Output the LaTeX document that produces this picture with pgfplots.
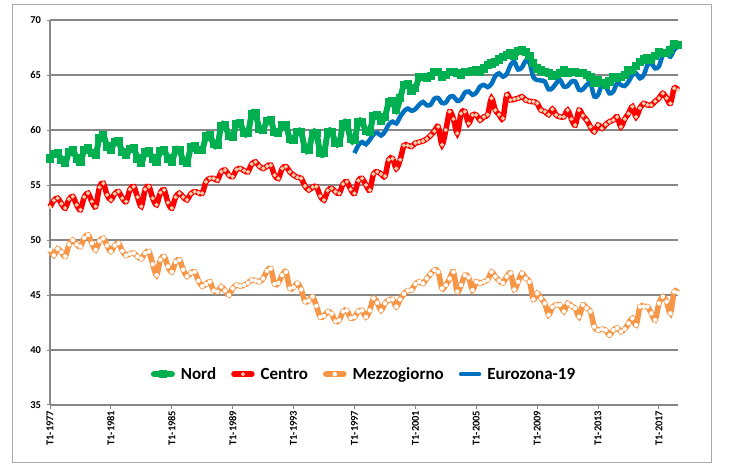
\documentclass[border=0pt]{standalone}
\usepackage{pgfplots}
\pgfplotsset{compat=1.18}
\usepackage{pgfplotstable}
\usepackage{fontspec}
\setmainfont{Carlito}
\definecolor{nordc}{RGB}{0,176,80}
\definecolor{nordm}{RGB}{175,232,125}
\definecolor{centroc}{RGB}{255,0,0}
\definecolor{centrom}{RGB}{242,208,172}
\definecolor{mezzoc}{RGB}{247,150,70}
\definecolor{euroc}{RGB}{0,112,192}
\definecolor{gridc}{RGB}{134,134,134}
\definecolor{framec}{RGB}{170,170,170}

% Nord 1977Q1 - 2018Q2
\pgfplotstableread[row sep=\\]{v\\
57.4\\57.8\\57.9\\57.3\\
57.0\\58.0\\58.2\\57.4\\
57.1\\58.2\\58.35\\57.9\\
57.75\\59.3\\59.55\\58.5\\
58.2\\58.9\\58.95\\58.0\\
57.7\\58.25\\58.35\\57.4\\
57.0\\57.95\\58.05\\57.4\\
57.1\\58.1\\58.2\\57.4\\
57.1\\58.15\\58.2\\57.2\\
57.0\\58.4\\58.5\\58.2\\
58.2\\59.4\\59.55\\58.7\\
58.65\\60.35\\60.45\\59.45\\
59.4\\60.55\\60.6\\59.75\\
59.7\\61.4\\61.5\\60.1\\
60.0\\60.85\\60.9\\59.8\\
59.7\\60.4\\60.45\\59.2\\
59.1\\59.85\\59.8\\58.3\\
58.2\\59.65\\59.7\\57.95\\
57.9\\59.8\\59.85\\58.85\\
58.8\\60.55\\60.6\\59.15\\
59.1\\60.7\\60.76\\59.9\\
59.85\\61.3\\61.36\\60.8\\
61.2\\62.5\\62.6\\61.8\\
62.9\\64.1\\64.2\\63.6\\
63.8\\64.8\\64.85\\64.7\\
64.9\\65.3\\65.25\\64.85\\
65.0\\65.3\\65.3\\65.15\\
65.0\\65.3\\65.3\\65.35\\
65.45\\65.3\\65.6\\65.9\\
66.05\\66.2\\66.4\\66.67\\
66.8\\66.97\\66.7\\67.2\\
67.25\\67.1\\66.7\\66.1\\
65.6\\65.4\\65.3\\65.15\\
64.9\\65.0\\65.2\\65.45\\
65.2\\65.3\\65.3\\65.15\\
65.15\\65.0\\64.8\\64.25\\
64.5\\64.3\\64.1\\64.4\\
64.8\\64.7\\64.8\\65.0\\
65.4\\65.45\\65.8\\66.2\\
66.4\\66.5\\66.4\\66.7\\
67.1\\67.0\\67.0\\67.3\\
67.85\\67.7\\
}\nord

% Centro
\pgfplotstableread[row sep=\\]{v\\
53.0\\53.6\\53.8\\53.3\\
52.9\\53.7\\53.95\\53.2\\
52.75\\53.9\\54.25\\53.5\\
53.05\\54.8\\55.15\\54.1\\
53.65\\54.2\\54.4\\53.8\\
53.5\\54.6\\54.85\\53.9\\
53.05\\54.6\\54.85\\53.8\\
53.2\\54.3\\54.55\\53.4\\
52.9\\53.9\\54.25\\53.9\\
53.65\\54.2\\54.4\\54.3\\
54.25\\55.3\\55.6\\55.6\\
55.45\\56.2\\56.36\\55.9\\
55.76\\56.4\\56.5\\56.3\\
56.2\\56.9\\57.1\\56.7\\
56.5\\56.7\\56.8\\55.9\\
55.6\\56.5\\56.67\\56.2\\
55.9\\55.7\\55.6\\54.9\\
54.55\\54.8\\54.85\\54.0\\
53.64\\54.5\\54.7\\54.4\\
54.24\\55.1\\55.3\\54.6\\
54.24\\55.4\\55.6\\55.0\\
54.55\\56.0\\56.2\\56.0\\
55.8\\57.3\\57.4\\56.5\\
57.3\\58.6\\58.6\\58.5\\
58.8\\58.9\\59.0\\59.2\\
59.5\\59.9\\60.3\\58.65\\
60.0\\61.67\\61.0\\59.7\\
61.5\\61.67\\60.6\\61.36\\
61.36\\60.9\\61.2\\61.4\\
62.88\\61.8\\61.4\\61.06\\
63.18\\62.73\\62.8\\62.88\\
63.03\\62.73\\62.6\\62.58\\
62.42\\61.8\\61.67\\61.4\\
61.9\\61.36\\61.2\\61.2\\
61.8\\61.0\\60.45\\61.8\\
61.3\\60.9\\60.3\\59.85\\
60.45\\60.15\\60.5\\60.76\\
60.9\\61.2\\60.3\\61.0\\
61.5\\62.12\\61.2\\62.0\\
62.42\\62.27\\62.27\\62.6\\
62.88\\63.33\\62.9\\62.42\\
63.8\\63.64\\
}\centro

% Mezzogiorno
\pgfplotstableread[row sep=\\]{v\\
49.1\\48.6\\49.2\\48.9\\
48.5\\49.6\\50.0\\49.6\\
49.4\\50.2\\50.45\\49.7\\
49.1\\49.9\\50.15\\49.5\\
48.95\\49.5\\49.7\\49.0\\
48.6\\48.75\\48.8\\48.5\\
48.3\\48.8\\48.95\\47.8\\
46.8\\48.2\\48.5\\47.6\\
47.1\\48.0\\48.2\\47.3\\
46.7\\47.0\\47.1\\46.3\\
45.8\\46.0\\46.2\\45.4\\
45.3\\45.76\\45.4\\45.0\\
45.6\\45.9\\45.8\\45.9\\
46.1\\46.36\\46.3\\46.2\\
46.5\\47.2\\47.4\\46.0\\
46.1\\46.8\\47.1\\45.6\\
45.7\\46.06\\45.5\\44.4\\
44.5\\44.85\\44.0\\43.0\\
43.1\\43.5\\43.3\\42.6\\
42.7\\43.5\\43.6\\42.9\\
43.0\\43.5\\43.6\\43.0\\
43.6\\44.7\\44.3\\43.6\\
44.24\\44.55\\44.6\\43.94\\
44.6\\45.1\\45.4\\45.45\\
46.0\\46.2\\46.06\\46.5\\
46.9\\47.27\\47.1\\45.6\\
45.9\\46.5\\47.1\\45.3\\
45.9\\46.8\\46.6\\45.45\\
46.2\\46.06\\46.2\\46.36\\
47.1\\46.67\\46.3\\46.1\\
46.67\\46.97\\45.5\\46.2\\
46.97\\46.5\\46.2\\44.6\\
45.15\\44.7\\44.24\\43.2\\
43.9\\44.1\\44.1\\43.5\\
44.24\\44.0\\43.8\\43.03\\
44.1\\43.8\\43.5\\42.12\\
41.8\\41.9\\41.8\\41.36\\
41.8\\42.0\\41.67\\41.9\\
42.42\\42.88\\42.27\\43.94\\
43.94\\43.94\\43.33\\42.73\\
44.24\\44.85\\44.4\\43.33\\
45.3\\45.2\\
}\mezzo

% Eurozona-19, from 1997Q1
\pgfplotstableread[row sep=\\]{v\\
57.9\\58.6\\58.9\\58.7\\
59.1\\59.6\\59.75\\59.5\\
59.85\\60.5\\60.76\\60.6\\
61.2\\61.7\\61.95\\61.75\\
61.9\\62.3\\62.55\\62.25\\
62.3\\62.85\\62.9\\62.45\\
62.5\\63.0\\63.05\\62.65\\
62.8\\63.4\\63.5\\63.2\\
63.4\\63.95\\64.1\\63.9\\
64.2\\64.9\\65.15\\64.85\\
65.1\\65.9\\66.2\\65.5\\
65.7\\66.3\\66.1\\64.8\\
64.55\\64.5\\64.4\\63.7\\
63.8\\64.25\\64.55\\63.95\\
64.0\\64.4\\64.4\\63.65\\
63.7\\64.1\\64.24\\63.05\\
63.2\\64.1\\63.95\\63.33\\
63.5\\64.24\\64.1\\64.0\\
64.4\\65.0\\65.15\\64.7\\
65.0\\65.9\\66.06\\65.6\\
65.8\\66.8\\66.97\\66.67\\
67.3\\67.58\\
}\euro

\begin{document}
\begin{tikzpicture}
\useasboundingbox (0,0) rectangle (742bp,469bp);
\fill[white] (0,0) rectangle (742bp,469bp);
\draw[framec, line width=1bp] (12.7bp,6.7bp) rectangle (711bp,464.3bp);
\begin{axis}[
  at={(50bp,64bp)}, anchor=south west, scale only axis,
  width=628bp, height=385bp,
  xmin=0, xmax=165, ymin=35, ymax=70,
  clip=false,
  axis x line=bottom, axis y line=left,
  axis line style={-, draw=gridc, line width=1.3bp},
  ytick={35,40,...,70},
  xtick={0,16,...,160},
  xticklabels={T1-1977,T1-1981,T1-1985,T1-1989,T1-1993,T1-1997,T1-2001,T1-2005,T1-2009,T1-2013,T1-2017},
  ymajorgrids, grid style={draw=gridc, line width=1.3bp},
  tick align=outside, major tick length=3.5bp,
  tick style={draw=gridc, line width=1bp},
  x tick label style={rotate=90, anchor=east, font=\bfseries\fontsize{10.5bp}{12bp}\selectfont, inner sep=2bp},
  y tick label style={font=\bfseries\fontsize{10.5bp}{12bp}\selectfont, xshift=-2bp},
  /pgf/number format/assume math mode=true,
  legend style={draw=none, fill=none, at={(0.5,0.08)}, anchor=center,
    font=\bfseries\fontsize{17bp}{20bp}\selectfont,
    /tikz/every odd column/.append style={column sep=4bp},
    /tikz/every even column/.append style={column sep=13bp}},
  legend columns=-1,
  legend image code/.code={\draw[mark repeat=2,mark phase=2,line cap=round,#1] plot coordinates {(0bp,0bp) (9bp,0bp) (18bp,0bp)};},
]
\addplot[nordc, line width=6bp, smooth, tension=0.5, mark=square*, mark size=1.1bp,
  mark options={draw=none, fill=nordm}] table[x expr=\coordindex, y=v] {\nord};
\addlegendentry{Nord}
\addplot[centroc, line width=5.5bp, smooth, tension=0.5, mark=*, mark size=1.9bp,
  mark options={draw=centrom, fill=centrom, line width=0.3bp}] table[x expr=\coordindex, y=v] {\centro};
\addlegendentry{Centro}
\addplot[mezzoc, line width=5.5bp, smooth, tension=0.5, mark=*, mark size=2bp,
  mark options={draw=white, fill=white, line width=0.3bp}] table[x expr=\coordindex, y=v] {\mezzo};
\addlegendentry{Mezzogiorno}
\addplot[euroc, line width=4.5bp, smooth, tension=0.5] table[x expr=\coordindex+80, y=v] {\euro};
\addlegendentry{Eurozona-19}
\end{axis}
\end{tikzpicture}
\end{document}
